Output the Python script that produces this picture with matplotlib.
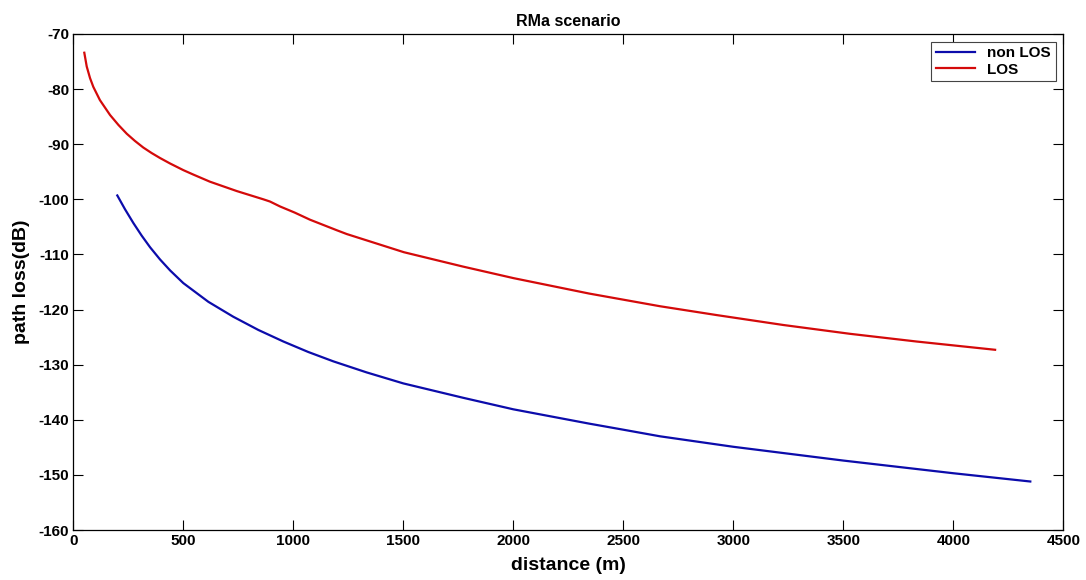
import matplotlib
matplotlib.use("Agg")
import matplotlib.pyplot as plt

# values
los_dist = [50, 61, 76, 91, 121, 167, 205, 243, 280, 318, 356, 394, 440, 500, 545, 621,
            743, 864, 894, 940, 1006, 1076, 1197, 1243, 1503, 1771, 2001, 2345, 2667,
            2924, 3227, 3530, 3833, 4190]
los_loss = [-73.4, -75.9, -78.0, -79.6, -82.0, -84.7, -86.5, -88.1, -89.4, -90.6, -91.6,
            -92.5, -93.5, -94.7, -95.5, -96.8, -98.5, -100.0, -100.4, -101.3, -102.4,
            -103.7, -105.6, -106.3, -109.6, -112.2, -114.3, -117.1, -119.4, -121.0,
            -122.8, -124.4, -125.8, -127.3]

nlos_dist = [200, 235, 273, 311, 349, 394, 440, 500, 614, 727, 841, 955, 1068, 1182, 1333,
             1500, 1771, 2000, 2345, 2500, 2667, 3000, 3500, 4000, 4350]
nlos_loss = [-99.3, -101.8, -104.3, -106.6, -108.7, -110.9, -112.9, -115.2, -118.6, -121.3,
             -123.7, -125.8, -127.7, -129.4, -131.4, -133.4, -136.0, -138.1, -140.7, -141.8,
             -143.0, -144.9, -147.4, -149.7, -151.2]

xticks = [0, 500, 1000, 1500, 2000, 2500, 3000, 3500, 4000, 4500]
yticks = [-160, -150, -140, -130, -120, -110, -100, -90, -80, -70]

plt.rcParams['font.family'] = ['Liberation Sans', 'DejaVu Sans']
plt.rcParams['font.weight'] = 'bold'
plt.rcParams['axes.unicode_minus'] = False

fig = plt.figure(figsize=(10.86, 5.80), dpi=100)
ax = fig.add_axes([0.0675, 0.0862, 0.9116, 0.8552])

ax.plot(nlos_dist, nlos_loss, color='#0c0cab', lw=1.6, label='non LOS')
ax.plot(los_dist, los_loss, color='#d40a0a', lw=1.6, label='LOS')

ax.set_xlim(0, 4500)
ax.set_ylim(-160, -70)
ax.set_xticks(xticks)
ax.set_yticks(yticks)
ax.tick_params(direction='in', length=7, width=0.8, top=True, right=True,
               labelsize=11, pad=3)
for lab in ax.get_xticklabels() + ax.get_yticklabels():
    lab.set_fontweight('bold')
for sp in ax.spines.values():
    sp.set_linewidth(0.9)

ax.set_title('RMa scenario', fontsize=11.5, fontweight='bold', pad=6)
ax.set_xlabel('distance (m)', fontsize=14, fontweight='bold', labelpad=6)
ax.set_ylabel('path loss(dB)', fontsize=14, fontweight='bold', labelpad=6)

leg = ax.legend(loc='upper right', fontsize=11, fancybox=False, framealpha=1,
                edgecolor='#444444', handlelength=2.6, borderpad=0.3,
                labelspacing=0.15, borderaxespad=0.5)
leg.get_frame().set_linewidth(0.8)

fig.savefig('out.png', dpi=100)
